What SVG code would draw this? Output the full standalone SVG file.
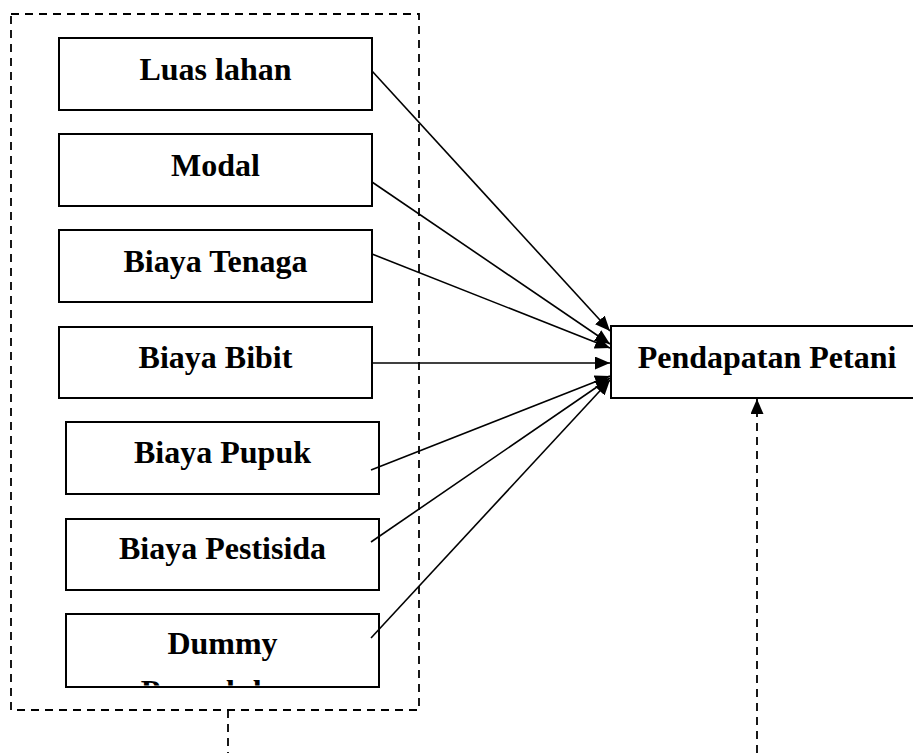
<svg xmlns="http://www.w3.org/2000/svg" width="913" height="753" viewBox="0 0 913 753">
  <style>
    .box { fill: #ffffff; stroke: #000000; stroke-width: 2; }
    .lbl { font-family: "Liberation Serif", "Times New Roman", serif; font-weight: bold; font-size: 32px; fill: #000000; text-anchor: middle; }
    .conn { stroke: #000000; stroke-width: 1.6; fill: none; }
    .dash { stroke: #000000; stroke-width: 1.8; fill: none; stroke-dasharray: 8 6; }
  </style>
  <defs>
    <marker id="arr" markerUnits="userSpaceOnUse" markerWidth="15" markerHeight="13" refX="15" refY="6.5" orient="auto">
      <path d="M0,0 L15,6.5 L0,13 Z" fill="#000000"/>
    </marker>
    <clipPath id="dummyClip">
      <rect x="68" y="615" width="310" height="70.5"/>
    </clipPath>
  </defs>

  <g id="group-box">
    <rect x="11" y="14" width="408" height="696" class="dash"/>
  </g>

  <g id="node-luas">
    <rect x="59" y="38" width="313" height="72" class="box"/>
    <text x="215.5" y="80" class="lbl">Luas lahan</text>
  </g>
  <g id="node-modal">
    <rect x="59" y="134" width="313" height="72" class="box"/>
    <text x="215.5" y="176" class="lbl">Modal</text>
  </g>
  <g id="node-tenaga">
    <rect x="59" y="230" width="313" height="72" class="box"/>
    <text x="215.5" y="272" class="lbl">Biaya Tenaga</text>
  </g>
  <g id="node-bibit">
    <rect x="59" y="327" width="313" height="71" class="box"/>
    <text x="215.5" y="368" class="lbl">Biaya Bibit</text>
  </g>
  <g id="node-pupuk">
    <rect x="66" y="422" width="313" height="72" class="box"/>
    <text x="222.5" y="463" class="lbl">Biaya Pupuk</text>
  </g>
  <g id="node-pestisida">
    <rect x="66" y="519" width="313" height="71" class="box"/>
    <text x="222.5" y="559" class="lbl">Biaya Pestisida</text>
  </g>
  <g id="node-dummy">
    <rect x="66" y="614" width="313" height="73" class="box"/>
    <g clip-path="url(#dummyClip)">
      <text x="222.5" y="654" class="lbl">Dummy</text>
      <text x="222.5" y="702" class="lbl">Penyuluhan</text>
    </g>
  </g>
  <g id="node-pendapatan">
    <rect x="611" y="326" width="330" height="72" class="box"/>
    <text x="767" y="368" class="lbl">Pendapatan Petani</text>
  </g>

  <g id="connectors">
    <line x1="372" y1="71" x2="610" y2="331" class="conn" marker-end="url(#arr)"/>
    <line x1="372" y1="182" x2="610" y2="344" class="conn" marker-end="url(#arr)"/>
    <line x1="372" y1="254" x2="610" y2="348" class="conn" marker-end="url(#arr)"/>
    <line x1="372" y1="363" x2="610" y2="363" class="conn" marker-end="url(#arr)"/>
    <line x1="371" y1="470" x2="610" y2="376" class="conn" marker-end="url(#arr)"/>
    <line x1="371" y1="542" x2="610" y2="378" class="conn" marker-end="url(#arr)"/>
    <line x1="371" y1="638" x2="610" y2="380" class="conn" marker-end="url(#arr)"/>
    <line x1="228" y1="710" x2="228" y2="753" class="dash"/>
    <line x1="757" y1="753" x2="757" y2="399" class="dash" marker-end="url(#arr)"/>
  </g>
</svg>
